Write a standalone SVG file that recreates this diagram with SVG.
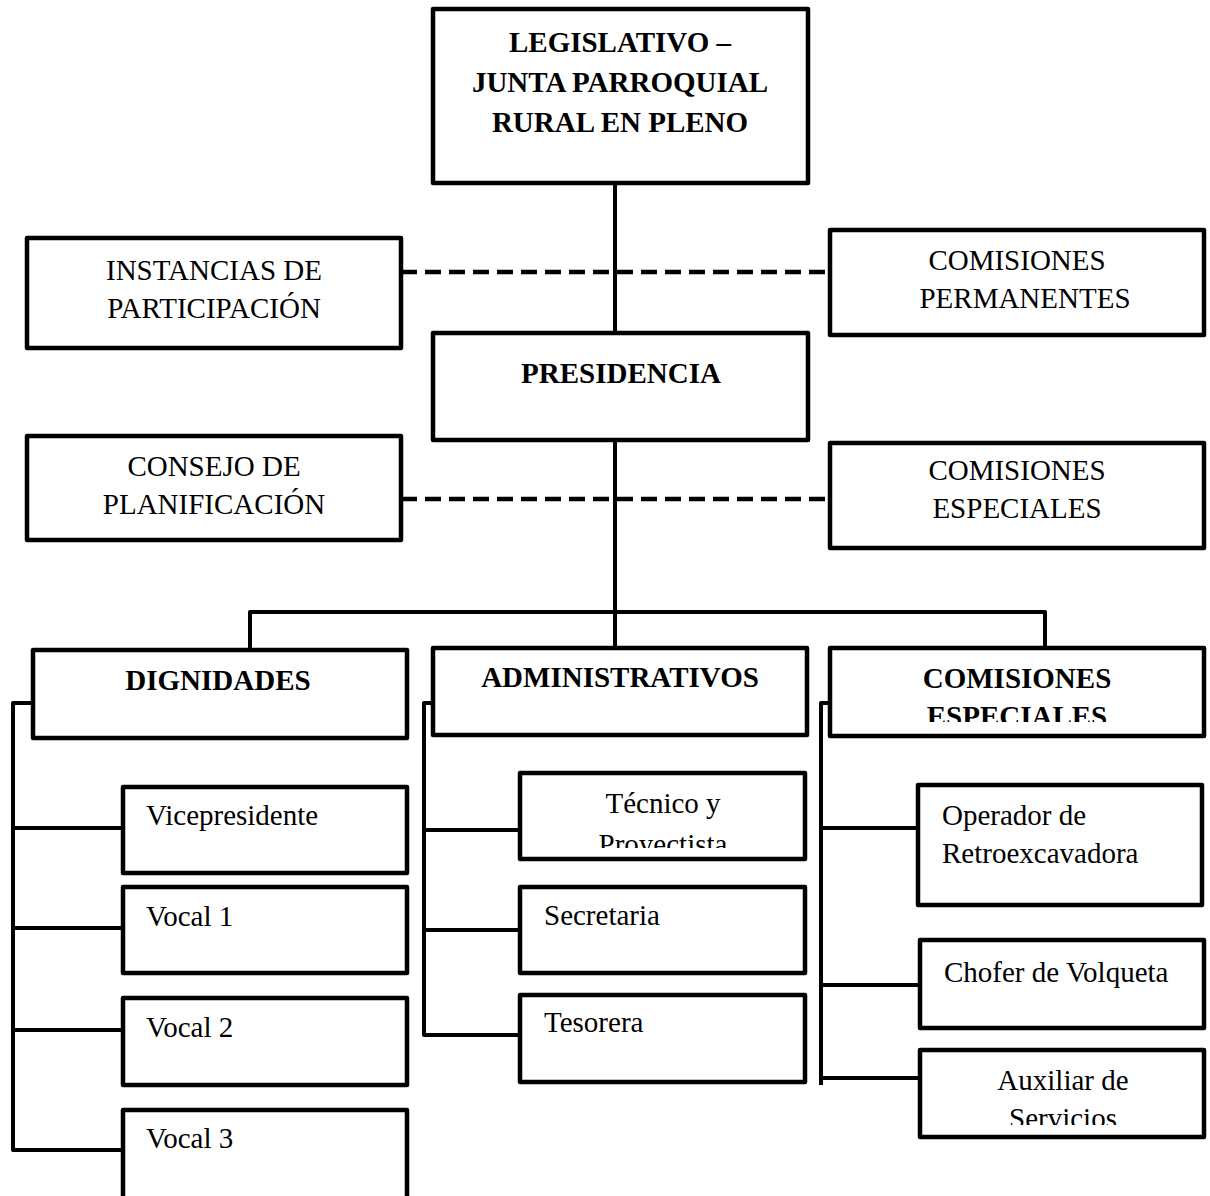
<svg xmlns="http://www.w3.org/2000/svg" width="1210" height="1196" viewBox="0 0 1210 1196">
<style>
.box{fill:#fff;stroke:#000;stroke-width:4.5;stroke-linejoin:round}
.ln{fill:none;stroke:#000;stroke-width:4;stroke-linejoin:round}
.dash{fill:none;stroke:#000;stroke-width:4.5;stroke-dasharray:16 8}
.b{font-family:"Liberation Serif","Times New Roman",serif;font-size:29px;font-weight:bold;fill:#000}
.r{font-family:"Liberation Serif","Times New Roman",serif;font-size:29px;fill:#000}
.c{text-anchor:middle}
</style>
<defs>
<clipPath id="clipCE"><rect x="830" y="648" width="374" height="74"/></clipPath>
<clipPath id="clipTP"><rect x="520" y="773" width="285" height="75"/></clipPath>
<clipPath id="clipAS"><rect x="920" y="1050" width="284" height="75"/></clipPath>
</defs>
<rect width="1210" height="1196" fill="#fff"/>
<g id="connectors">
<line class="ln" x1="615" y1="183" x2="615" y2="612"/>
<line class="dash" x1="401" y1="272" x2="830" y2="272"/>
<line class="dash" x1="401" y1="499" x2="830" y2="499"/>
<polyline class="ln" points="250,650 250,612 1045,612 1045,650"/>
<line class="ln" x1="615" y1="612" x2="615" y2="650"/>
<polyline class="ln" points="33,703 13,703 13,1150 123,1150"/>
<line class="ln" x1="13" y1="828" x2="123" y2="828"/>
<line class="ln" x1="13" y1="928" x2="123" y2="928"/>
<line class="ln" x1="13" y1="1030" x2="123" y2="1030"/>
<polyline class="ln" points="433,703 424,703 424,1035 520,1035"/>
<line class="ln" x1="424" y1="830" x2="520" y2="830"/>
<line class="ln" x1="424" y1="930" x2="520" y2="930"/>
<polyline class="ln" points="830,703 821,703 821,1085"/>
<line class="ln" x1="821" y1="828" x2="918" y2="828"/>
<line class="ln" x1="821" y1="985" x2="920" y2="985"/>
<line class="ln" x1="821" y1="1078" x2="920" y2="1078"/>
</g>
<g id="legislativo">
<rect class="box" x="433" y="9" width="375" height="174"/>
<text class="b c" x="620" y="52">LEGISLATIVO –</text>
<text class="b c" x="620" y="92">JUNTA PARROQUIAL</text>
<text class="b c" x="620" y="132">RURAL EN PLENO</text>
</g>
<g id="instancias">
<rect class="box" x="27" y="238" width="374" height="110"/>
<text class="r c" x="214" y="280">INSTANCIAS DE</text>
<text class="r c" x="214" y="318">PARTICIPACIÓN</text>
</g>
<g id="comisiones-permanentes">
<rect class="box" x="830" y="230" width="374" height="105"/>
<text class="r c" x="1017" y="270">COMISIONES</text>
<text class="r c" x="1025" y="308">PERMANENTES</text>
</g>
<g id="presidencia">
<rect class="box" x="433" y="333" width="375" height="107"/>
<text class="b c" x="621" y="383">PRESIDENCIA</text>
</g>
<g id="consejo">
<rect class="box" x="27" y="436" width="374" height="104"/>
<text class="r c" x="214" y="476">CONSEJO DE</text>
<text class="r c" x="214" y="514">PLANIFICACIÓN</text>
</g>
<g id="comisiones-especiales-1">
<rect class="box" x="830" y="443" width="374" height="105"/>
<text class="r c" x="1017" y="480">COMISIONES</text>
<text class="r c" x="1017" y="518">ESPECIALES</text>
</g>
<g id="dignidades">
<rect class="box" x="33" y="650" width="374" height="88"/>
<text class="b c" x="218" y="690">DIGNIDADES</text>
</g>
<g id="administrativos">
<rect class="box" x="433" y="648" width="374" height="87"/>
<text class="b c" x="620" y="687">ADMINISTRATIVOS</text>
</g>
<g id="comisiones-especiales-2">
<rect class="box" x="830" y="648" width="374" height="88"/>
<text class="b c" x="1017" y="688">COMISIONES</text>
<text class="b c" x="1017" y="726" clip-path="url(#clipCE)">ESPECIALES</text>
</g>
<g id="vicepresidente">
<rect class="box" x="123" y="787" width="284" height="86"/>
<text class="r" x="146" y="825">Vicepresidente</text>
</g>
<g id="vocal1">
<rect class="box" x="123" y="887" width="284" height="86"/>
<text class="r" x="146" y="926">Vocal 1</text>
</g>
<g id="vocal2">
<rect class="box" x="123" y="998" width="284" height="87"/>
<text class="r" x="146" y="1037">Vocal 2</text>
</g>
<g id="vocal3">
<rect class="box" x="123" y="1110" width="284" height="100"/>
<text class="r" x="146" y="1148">Vocal 3</text>
</g>
<g id="tecnico">
<rect class="box" x="520" y="773" width="285" height="86"/>
<text class="r c" x="663" y="813">Técnico y</text>
<text class="r c" x="663" y="854" clip-path="url(#clipTP)">Proyectista</text>
</g>
<g id="secretaria">
<rect class="box" x="520" y="887" width="285" height="86"/>
<text class="r" x="544" y="925">Secretaria</text>
</g>
<g id="tesorera">
<rect class="box" x="520" y="995" width="285" height="87"/>
<text class="r" x="544" y="1032">Tesorera</text>
</g>
<g id="operador">
<rect class="box" x="918" y="785" width="284" height="120"/>
<text class="r" x="942" y="825">Operador de</text>
<text class="r" x="942" y="863">Retroexcavadora</text>
</g>
<g id="chofer">
<rect class="box" x="920" y="940" width="284" height="88"/>
<text class="r" x="944" y="982">Chofer de Volqueta</text>
</g>
<g id="auxiliar">
<rect class="box" x="920" y="1050" width="284" height="87"/>
<text class="r c" x="1063" y="1090">Auxiliar de</text>
<text class="r c" x="1063" y="1128" clip-path="url(#clipAS)">Servicios</text>
</g>
</svg>
